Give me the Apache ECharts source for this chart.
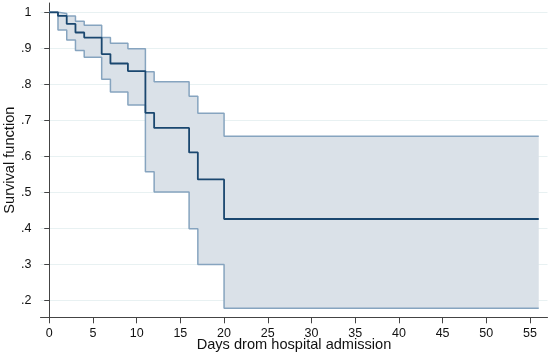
<!DOCTYPE html>
<html><head><meta charset="utf-8">
<script src="https://cdn.jsdelivr.net/npm/echarts@6/dist/echarts.min.js"></script>
<style>html,body{margin:0;padding:0;background:#fff}#c{width:550px;height:356px}</style>
</head><body><div id="c"></div>
<script>
var days  = [0, 1, 2, 3, 4, 6, 7, 9, 11, 12, 16, 17, 20, 56];
var surv  = [1, 0.990, 0.968, 0.944, 0.930, 0.884, 0.858, 0.837, 0.721, 0.679, 0.611, 0.536, 0.426, 0.426];
var upper = [1, 0.997, 0.990, 0.975, 0.964, 0.930, 0.914, 0.899, 0.835, 0.807, 0.767, 0.720, 0.656, 0.656];
var lower = [1, 0.951, 0.923, 0.894, 0.875, 0.814, 0.779, 0.743, 0.557, 0.501, 0.399, 0.300, 0.178, 0.178];
var xTicks = [0, 5, 10, 15, 20, 25, 30, 35, 40, 45, 50, 55];
var yTicks = [0.2, 0.3, 0.4, 0.5, 0.6, 0.7, 0.8, 0.9, 1];
var yTickLabels = ['.2', '.3', '.4', '.5', '.6', '.7', '.8', '.9', '1'];

function pairs(ys){ return days.map(function(d,i){ return [d, ys[i]]; }); }
var bandData = days.map(function(d,i){ return [d, lower[i], upper[i]]; });

var chart = echarts.init(document.getElementById('c'));
var font = 'Liberation Sans, Arial, sans-serif';
chart.setOption({
  animation: false,
  backgroundColor: '#ffffff',
  grid: {left: 40.5, right: 2.5, top: 3, bottom: 38.7, containLabel: false, outerBoundsMode: 'none'},
  xAxis: {
    type: 'value', min: -1, max: 57,
    name: 'Days drom hospital admission', nameLocation: 'middle', nameGap: 20, nameMoveOverlap: false,
    nameTextStyle: {fontFamily: font, fontSize: 14.6, color: '#111', verticalAlign: 'top'},
    axisLine: {show: true, lineStyle: {color: '#444', width: 1}},
    axisTick: {show: true, length: 6, customValues: xTicks, lineStyle: {color: '#444'}},
    axisLabel: {customValues: xTicks, fontFamily: font, fontSize: 12.5, color: '#111', margin: 10},
    splitLine: {show: false}
  },
  yAxis: {
    type: 'value', min: 0.153, max: 1.026,
    name: 'Survival function', nameLocation: 'middle', nameGap: 23, nameRotate: 90, nameMoveOverlap: false,
    nameTextStyle: {fontFamily: font, fontSize: 14.6, color: '#111'},
    axisLine: {show: true, lineStyle: {color: '#444', width: 1}},
    axisTick: {show: true, length: 5, customValues: yTicks, lineStyle: {color: '#444'}},
    axisLabel: {customValues: yTicks, fontFamily: font, fontSize: 12.5, color: '#111', margin: 9,
      formatter: function(v){ var i = yTicks.findIndex(function(t){return Math.abs(t-v)<1e-6;}); return i>=0 ? yTickLabels[i] : ''; }},
    splitLine: {show: true, lineStyle: {color: '#e8f1f2', width: 1}}
  },
  series: [
    {type: 'custom', name: 'band', data: bandData, silent: true, z: 2,
     encode: {x: 0, y: [1, 2]},
     renderItem: function(params, api){
       if (params.dataIndex !== 0) return null;
       var top = [], bot = [];
       for (var i = 0; i < bandData.length; i++) {
         var d = bandData[i];
         var pu = api.coord([d[0], d[2]]), pl = api.coord([d[0], d[1]]);
         if (i > 0) {
           top.push(api.coord([d[0], bandData[i-1][2]]));
           bot.push(api.coord([d[0], bandData[i-1][1]]));
         }
         top.push(pu); bot.push(pl);
       }
       var pts = top.concat(bot.reverse());
       return {type: 'polygon', shape: {points: pts}, style: {fill: '#dae1e8', stroke: null}};
     }},
    {type: 'line', name: 'upper', data: pairs(upper), step: 'end', symbol: 'none',
     lineStyle: {color: '#86a4bf', width: 1.5}, z: 3},
    {type: 'line', name: 'lower', data: pairs(lower), step: 'end', symbol: 'none',
     lineStyle: {color: '#86a4bf', width: 1.5}, z: 3},
    {type: 'line', name: 'survival', data: pairs(surv), step: 'end', symbol: 'none',
     lineStyle: {color: '#1a476f', width: 1.8}, z: 4}
  ]
});
</script></body></html>
